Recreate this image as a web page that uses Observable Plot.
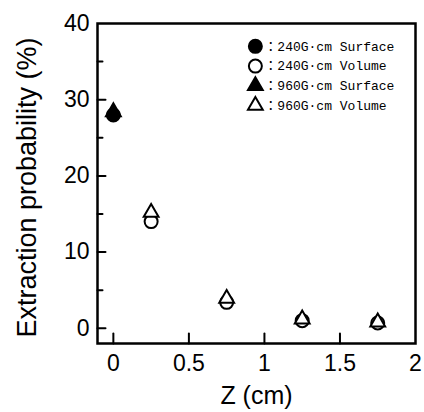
<!DOCTYPE html>
<html><head><meta charset="utf-8">
<script src="https://cdn.jsdelivr.net/npm/d3@7"></script>
<script src="https://cdn.jsdelivr.net/npm/@observablehq/plot@0.6"></script>
<style>body{margin:0;background:#fff}</style>
</head><body><div id="chart"></div>
<script>
const series = ["240G·cm Surface", "240G·cm Volume", "960G·cm Surface", "960G·cm Volume"];
const symbols = ["circle", "circle", "triangle", "triangle"];
const filled = [true, false, true, false];
const z240s = [0];
const v240s = [28.0];
const z240v = [0.25, 0.75, 1.25, 1.75];
const v240v = [14.0, 3.4, 1.0, 0.7];
const z960s = [0];
const v960s = [28.4];
const z960v = [0.25, 0.75, 1.25, 1.75];
const v960v = [15.2, 3.9, 1.2, 0.8];
const xTicks = [0, 0.5, 1, 1.5, 2];
const yTicks = [0, 10, 20, 30, 40];
const yMinor = [5, 15, 25, 35];
const xLabel = "Z (cm)";
const yLabel = "Extraction probability (%)";

const groups = [[z240s, v240s], [z240v, v240v], [z960s, v960s], [z960v, v960v]];
const pts = groups.flatMap(([zs, vs], i) => zs.map((z, j) => ({z, v: vs[j], s: i})));

const legX = 0.94, legTop = 37.0, legStep = 2.59;
const leg = series.map((name, i) => ({name, s: i, z: legX, v: legTop - i * legStep}));

const font = "'Liberation Sans', Arial, sans-serif";
const dotMark = (data, i) => Plot.dot(data.filter(d => d.s === i), {
  x: "z", y: "v", symbol: () => symbols[i],
  r: symbols[i] === "circle" ? 6.5 : 5.5,
  fill: filled[i] ? "black" : "white", stroke: "black", strokeWidth: 2
});
const tickShape = {draw(ctx, l) { ctx.moveTo(0, 0); ctx.lineTo(0, -l); }};

const chart = Plot.plot({
  width: 424, height: 412,
  marginLeft: 97, marginRight: 9, marginTop: 23, marginBottom: 69,
  style: {fontFamily: font, background: "white", color: "black"},
  x: {domain: [-0.105, 2]},
  y: {domain: [-2, 40]},
  marks: [
    Plot.axisX(xTicks, {tickSize: 0, tickPadding: 11, fontSize: 23, tickFormat: d => String(d), label: null}),
    Plot.axisY(yTicks, {tickSize: 0, tickPadding: 8, fontSize: 23, label: null}),
    Plot.vector(xTicks.slice(0, 4), {x: d => d, frameAnchor: "bottom", length: 10, anchor: "start", shape: tickShape, stroke: "black", strokeWidth: 2}),
    Plot.vector(yTicks.slice(0, 4), {y: d => d, frameAnchor: "left", rotate: 90, length: 8, anchor: "start", shape: tickShape, stroke: "black", strokeWidth: 2}),
    Plot.vector(yMinor, {y: d => d, frameAnchor: "left", rotate: 90, length: 5, anchor: "start", shape: tickShape, stroke: "black", strokeWidth: 2}),
    Plot.text([xLabel], {frameAnchor: "bottom", dy: 52, lineAnchor: "middle", fontSize: 25, text: d => d, fill: "black"}),
    Plot.text([yLabel], {frameAnchor: "left", dx: -70, dy: 4, rotate: -90, textAnchor: "middle", lineAnchor: "middle", fontSize: 27, text: d => d, fill: "black"}),
    Plot.frame({stroke: "black", strokeWidth: 2.5}),
    ...series.map((_, i) => dotMark(pts, i)),
    ...series.map((_, i) => dotMark(leg, i)),
    Plot.text(leg, {x: "z", y: "v", text: d => "：" + d.name, textAnchor: "start", dx: 9, fontSize: 13,
      fontFamily: "'Liberation Mono', 'Noto Sans CJK JP', monospace", fill: "black"})
  ]
});
document.getElementById("chart").append(chart);
</script></body></html>
